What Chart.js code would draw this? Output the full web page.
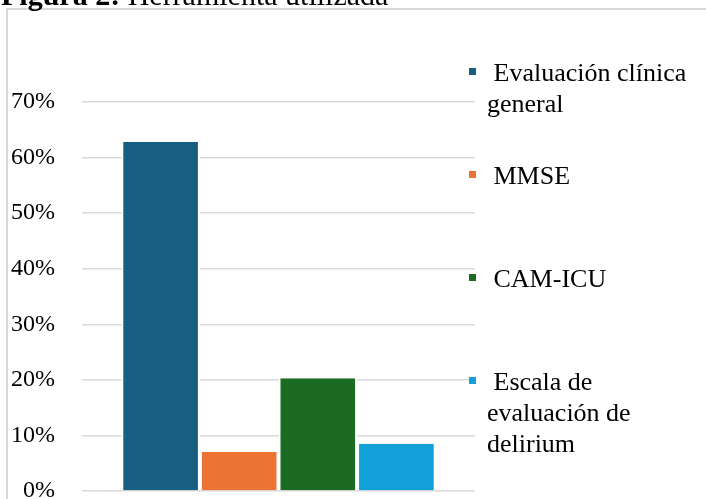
<!DOCTYPE html>
<html>
<head>
<meta charset="utf-8">
<script src="https://cdn.jsdelivr.net/npm/chart.js@4/dist/chart.umd.min.js"></script>
<style>
  html, body { margin: 0; padding: 0; background: #fff; }
  #c { display: block; }
</style>
</head>
<body>
<canvas id="c" width="706" height="499"></canvas>
<script>
const titleBold = "Figura 2:";
const titleRest = " Herramienta utilizada";
const categories = [""];
const seriesNames = ["Evaluación clínica general", "MMSE", "CAM-ICU", "Escala de evaluación de delirium"];
const seriesValues = [62.8, 7.0, 20.3, 8.5];
const seriesColors = ["#175F80", "#EB7434", "#1B6B24", "#11A0D7"];
const yTicks = [0, 10, 20, 30, 40, 50, 60, 70];

const FONT = "'Liberation Serif', 'Times New Roman', serif";

const framePlugin = {
  id: 'frame',
  beforeDraw(chart) {
    const ctx = chart.ctx;
    ctx.save();
    ctx.strokeStyle = '#d9d9d9';
    ctx.lineWidth = 2;
    ctx.beginPath();
    ctx.moveTo(7, 499);
    ctx.lineTo(7, 9);
    ctx.lineTo(706, 9);
    ctx.stroke();
    ctx.restore();
  },
  afterDraw(chart) {
    const ctx = chart.ctx;
    ctx.save();
    // title
    ctx.fillStyle = '#000';
    ctx.textBaseline = 'alphabetic';
    ctx.textAlign = 'left';
    ctx.font = "bold 30px " + FONT;
    ctx.fillText(titleBold, 1, 5);
    const w = ctx.measureText(titleBold).width;
    ctx.font = "30px " + FONT;
    ctx.fillText(titleRest, 1 + w, 5);

    // legend
    const ds = chart.data.datasets;
    const textX = 487;
    const maxW = 212;
    const firstBase = 81;
    const itemStep = 103;
    const lineH = 31;
    ctx.font = "26px " + FONT;
    ds.forEach((d, i) => {
      const base = firstBase + i * itemStep;
      ctx.fillStyle = d.backgroundColor;
      ctx.fillRect(469, base - 13, 7, 7);
      const words = (" " + d.label).split(/(?= )/);
      const lines = [];
      let cur = "";
      words.forEach(wd => {
        const test = cur + wd;
        if (cur && ctx.measureText(test).width > maxW) {
          lines.push(cur);
          cur = wd.trimStart();
        } else {
          cur = test;
        }
      });
      if (cur) lines.push(cur);
      ctx.fillStyle = '#000';
      lines.forEach((ln, k) => ctx.fillText(ln, textX, base + k * lineH));
    });
    ctx.restore();
  }
};

new Chart(document.getElementById('c'), {
  type: 'bar',
  data: {
    labels: categories,
    datasets: seriesNames.map((n, i) => ({
      label: n,
      data: [seriesValues[i]],
      backgroundColor: seriesColors[i],
      borderColor: '#ffffff',
      borderWidth: { left: 2, right: 2, top: 0, bottom: 0 },
      borderSkipped: false,
      categoryPercentage: 0.8,
      barPercentage: 1.0
    }))
  },
  options: {
    responsive: false,
    animation: false,
    devicePixelRatio: 1,
    layout: { padding: { left: 0, top: 102, right: 231, bottom: 8 } },
    plugins: {
      legend: { display: false },
      title: { display: false },
      tooltip: { enabled: false }
    },
    scales: {
      x: { display: false },
      y: {
        min: 0,
        max: 70,
        afterFit(scale) {
          scale.width = 82;
          scale.paddingTop = 0;
          scale.paddingBottom = 0;
        },
        afterBuildTicks(scale) { scale.ticks = yTicks.map(v => ({ value: v })); },
        ticks: {
          padding: 27,
          color: '#000',
          font: { family: FONT, size: 24 },
          callback: v => v + '%'
        },
        grid: { color: '#d9d9d9', lineWidth: 1.5, drawTicks: false },
        border: { display: false }
      }
    }
  },
  plugins: [framePlugin]
});
</script>
</body>
</html>
